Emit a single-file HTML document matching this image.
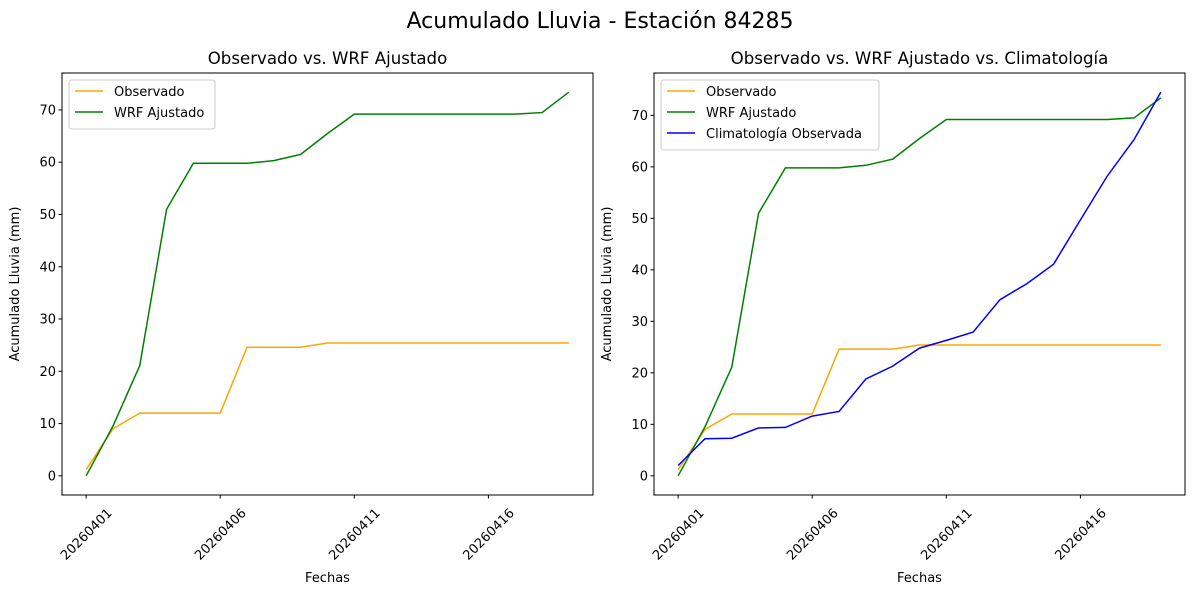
<!DOCTYPE html>
<html><head><meta charset="utf-8"><style>
body{margin:0;background:#fff;}
svg{font-family:"DejaVu Sans","Liberation Sans",sans-serif;}
</style></head><body>
<svg id="chart" width="1200" height="600" viewBox="0 0 1200 600">
<text x="600" y="28" text-anchor="middle" font-size="22" fill="#000">Acumulado Lluvia - Estación 84285</text>
</svg>
<script>
const days = ["20260401","20260402","20260403","20260404","20260405","20260406","20260407","20260408","20260409","20260410","20260411","20260412","20260413","20260414","20260415","20260416","20260417","20260418","20260419"];
const tickLabels = ["20260401","20260406","20260411","20260416"];
const yTicks = [0,10,20,30,40,50,60,70];
const observado = [1.2,9.0,12.0,12.0,12.0,12.0,24.6,24.6,24.6,25.4,25.4,25.4,25.4,25.4,25.4,25.4,25.4,25.4,25.4];
const wrf = [0,9.5,21.1,51.0,59.8,59.8,59.8,60.3,61.5,65.5,69.2,69.2,69.2,69.2,69.2,69.2,69.2,69.5,73.4];
const clim = [2.0,7.2,7.3,9.3,9.4,11.6,12.5,18.8,21.3,24.8,26.3,27.9,34.2,37.3,41.1,49.7,58.2,65.3,74.5];

const NS="http://www.w3.org/2000/svg";
const svg=document.getElementById('chart');
function mk(tag,attrs,parent){const e=document.createElementNS(NS,tag);for(const k in attrs)e.setAttribute(k,attrs[k]);(parent||svg).appendChild(e);return e;}

function panel(x0,x1,y0,y1,title,series,prefix){
  const g=mk('g',{});
  
  
  const n=days.length;
  const xm=(n-1)*0.05;
  const xs=i=>x0+(i+xm)/((n-1)+2*xm)*(x1-x0);
  let all=[];series.forEach(s=>all=all.concat(s.data));
  const mn=Math.min(...all),mx=Math.max(...all),pad=(mx-mn)*0.05;
  const lo=mn-pad,hi=mx+pad;
  const ys=v=>y1-(v-lo)/(hi-lo)*(y1-y0);
  series.forEach(s=>{
    const p=mk('polyline',{points:s.data.map((v,i)=>xs(i)+','+ys(v)).join(' '),fill:'none',stroke:s.color,'stroke-width':1.5},g);
    
    
  });
  const fr=mk('rect',{x:x0,y:y0,width:x1-x0,height:y1-y0,fill:'none',stroke:'#000','stroke-width':1},g);
  
  
  yTicks.forEach(t=>{
    const y=ys(t);
    mk('line',{x1:x0-3.5,x2:x0,y1:y,y2:y,stroke:'#000'},g);
    const tx=mk('text',{x:x0-6,y:y+4.5,'text-anchor':'end','font-size':13},g);
    tx.textContent=t;
    
    
  });
  tickLabels.forEach(lbl=>{
    const i=days.indexOf(lbl),x=xs(i);
    mk('line',{x1:x,x2:x,y1:y1,y2:y1+3.5,stroke:'#000'},g);
    const tx=mk('text',{x:0,y:4.5,'text-anchor':'middle','font-size':13,transform:`translate(${x},${y1+39}) rotate(-45)`},g);
    tx.textContent=lbl;
    
    
  });
  const t=mk('text',{x:(x0+x1)/2,y:y0-9,'text-anchor':'middle','font-size':16.6},g);
  t.textContent=title;
  
  
  const xl=mk('text',{x:(x0+x1)/2,y:582,'text-anchor':'middle','font-size':13},g);
  xl.textContent='Fechas';
  
  
  const yl=mk('text',{x:0,y:0,'text-anchor':'middle','font-size':13,transform:`translate(${x0-43},${(y0+y1)/2}) rotate(-90)`},g);
  yl.textContent='Acumulado Lluvia (mm)';
  
  
  const lw=series.length===3?218:146;
  const lg=mk('g',{},g);
  
  
  mk('rect',{x:x0+7,y:y0+7,width:lw,height:series.length*21+7,rx:3,fill:'#fff',stroke:'#ccc'},lg);
  series.forEach((s,k)=>{
    const yy=y0+18+k*21;
    mk('line',{x1:x0+13,x2:x0+41,y1:yy,y2:yy,stroke:s.color,'stroke-width':1.5},lg);
    const lt=mk('text',{x:x0+52,y:yy+5,'font-size':13},lg);
    lt.textContent=s.name;
    
    
  });
}
panel(62,593,73,495,'Observado vs. WRF Ajustado',[
  {key:'observado',name:'Observado',color:'orange',data:observado},
  {key:'wrf',name:'WRF Ajustado',color:'green',data:wrf}],'left');
panel(654,1185,73,495,'Observado vs. WRF Ajustado vs. Climatología',[
  {key:'observado',name:'Observado',color:'orange',data:observado},
  {key:'wrf',name:'WRF Ajustado',color:'green',data:wrf},
  {key:'clim',name:'Climatología Observada',color:'blue',data:clim}],'right');
</script>
</body></html>
